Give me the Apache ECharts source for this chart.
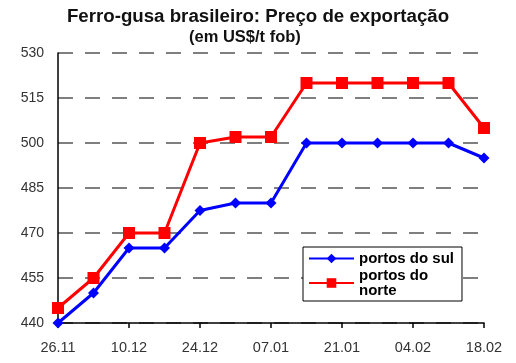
<!DOCTYPE html>
<html><head><meta charset="utf-8">
<script src="https://cdn.jsdelivr.net/npm/echarts@6/dist/echarts.min.js"></script>
<style>html,body{margin:0;padding:0;background:#fff}#c{width:516px;height:363px}</style>
</head><body><div id="c"></div>
<script>
const categories = ['26.11','03.12','10.12','17.12','24.12','31.12','07.01','14.01','21.01','28.01','04.02','11.02','18.02'];
const sulValues = [440, 450, 465, 465, 477.5, 480, 480, 500, 500, 500, 500, 500, 495];
const norteValues = [445, 455, 470, 470, 500, 502, 502, 520, 520, 520, 520, 520, 505];
const seriesNames = ['portos do sul', 'portos do norte'];
const titleText = 'Ferro-gusa brasileiro: Preço de exportação';
const subtitleText = '(em US$/t fob)';

const chart = echarts.init(document.getElementById('c'), null, {renderer: 'canvas'});
chart.setOption({
  backgroundColor: '#fff',
  animation: false,
  title: [
    {text: titleText, left: 'center', top: 2, textStyle: {fontFamily: 'Liberation Sans, Arial', fontSize: 18.7, fontWeight: 'bold', color: '#111'}},
    {text: subtitleText, left: 184, top: 24, textStyle: {fontFamily: 'Liberation Sans, Arial', fontSize: 16.5, fontWeight: 'bold', color: '#111'}}
  ],
  grid: {left: 58, top: 53, right: 32, bottom: 40, containLabel: false},
  xAxis: {
    type: 'category', data: categories, boundaryGap: false,
    axisLine: {lineStyle: {color: '#000', width: 1.5}},
    axisTick: {show: true, interval: 1, length: 5, lineStyle: {color: '#000', width: 1.5}},
    axisLabel: {interval: 1, margin: 17, fontFamily: 'Liberation Sans, Arial', fontSize: 14.5, color: '#333'},
    splitLine: {show: false}
  },
  yAxis: {
    type: 'value', min: 440, max: 530, interval: 15,
    axisLine: {show: true, lineStyle: {color: '#000', width: 1.5}},
    axisTick: {show: false},
    axisLabel: {margin: 14, fontFamily: 'Liberation Sans, Arial', fontSize: 14, color: '#333'},
    splitLine: {show: true, lineStyle: {color: '#555', width: 1.5, type: [15, 12]}}
  },
  legend: {
    orient: 'vertical', left: 303, top: 247,
    padding: [4, 8, 3, 5], itemGap: 2,
    borderColor: '#000', borderWidth: 1, backgroundColor: '#fff',
    itemWidth: 45, itemHeight: 12,
    textStyle: {fontFamily: 'Liberation Sans, Arial', fontSize: 15, fontWeight: 'bold', color: '#000', lineHeight: 15},
    formatter: function (n) { return n === 'portos do norte' ? 'portos do\nnorte' : n; },
    data: seriesNames
  },
  series: [
    {name: seriesNames[0], type: 'line', data: sulValues, color: '#0000ff', symbol: 'diamond', symbolSize: 11,
     lineStyle: {width: 3}, itemStyle: {color: '#0000ff'}, z: 3},
    {name: seriesNames[1], type: 'line', data: norteValues, color: '#ff0000', symbol: 'rect', symbolSize: 12,
     lineStyle: {width: 3}, itemStyle: {color: '#ff0000'}, z: 2}
  ]
});
</script></body></html>
